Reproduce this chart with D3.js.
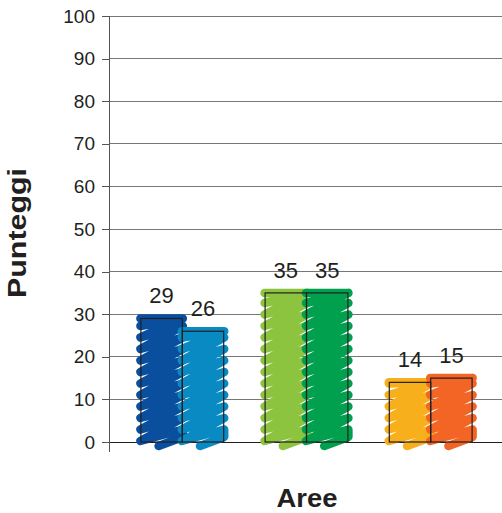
<!DOCTYPE html>
<html>
<head>
<meta charset="utf-8">
<script src="https://cdn.jsdelivr.net/npm/d3@7"></script>
<style>
  html, body { margin: 0; padding: 0; background: #fff; }
  svg { display: block; }
  text { font-family: "Liberation Sans", Arial, sans-serif; fill: #231f20; }
</style>
</head>
<body>
<svg id="chart" width="502" height="513"></svg>
<script>
// Scores per area, two bars per area
const areas = ["Area 1", "Area 2", "Area 3"];
const seriesKeys = ["a", "b"];
const scoresA = [29, 35, 14];
const scoresB = [26, 35, 15];
const barColors = [
  ["#0a4f9e", "#0a8ac2"],
  ["#8cc43f", "#00a04e"],
  ["#f8af1c", "#f26524"]
];
const yTicks = [0, 10, 20, 30, 40, 50, 60, 70, 80, 90, 100];

const svg = d3.select("#chart");
const W = 502, H = 513;

const y = d3.scaleLinear().domain([0, 100]).range([442, 16]);
const x = d3.scaleBand().domain(areas).range([120.2, 492.8]).paddingInner(0).paddingOuter(0);
const xInner = d3.scaleBand().domain(seriesKeys).range([0, x.bandwidth()]).paddingOuter(0.5).paddingInner(0);

const axisX = 109;

// horizontal gridlines
svg.append("g").selectAll("line")
  .data(yTicks)
  .join("line")
  .attr("x1", axisX).attr("x2", W)
  .attr("y1", d => y(d)).attr("y2", d => y(d))
  .attr("stroke", d => d === 0 ? "#231f20" : "#777")
  .attr("stroke-width", 1)
  .attr("shape-rendering", "crispEdges");

// y axis
const yAxis = d3.axisLeft(y).tickValues(yTicks).tickSize(7).tickPadding(7).tickFormat(d3.format("d"));
const gy = svg.append("g").attr("transform", `translate(${axisX},0)`).call(yAxis);
gy.select(".domain").remove();
gy.selectAll(".tick line").attr("stroke", "#555").attr("shape-rendering", "crispEdges");
gy.selectAll(".tick text").attr("font-size", 19).style("font-family", "'Liberation Sans', Arial, sans-serif").attr("fill", "#231f20");
svg.append("line")
  .attr("x1", axisX).attr("x2", axisX)
  .attr("y1", y(100)).attr("y2", y(0) + 10)
  .attr("stroke", "#555").attr("shape-rendering", "crispEdges");

// bar records
const bars = [];
areas.forEach((a, i) => {
  [scoresA[i], scoresB[i]].forEach((v, j) => {
    bars.push({ area: a, key: seriesKeys[j], value: v, color: barColors[i][j] });
  });
});

// scribble fill: a thick zig-zag stroke climbing from the base to the bar top
function scribblePath(b) {
  const x0 = x(b.area) + xInner(b.key);
  const x1 = x0 + xInner.bandwidth();
  const yb = y(0), yt = y(b.value);
  const s = 11.5;
  const ov = 0.5;
  const L = x0 - ov, R = x1 + ov;
  const pts = [[(x0 + x1) / 2 - 3, yb + 4], [R, yb - 5], [R, Math.max(yb - 1 - s, yt)], [L, yb - 1]];
  let yl = yb - 1;
  while (yl > yt + 0.5) {
    pts.push([R, Math.max(yl - 2 * s, yt)]);
    yl = Math.max(yl - s, yt);
    pts.push([L, yl]);
  }
  // finish with a stroke along the top edge
  pts.push([R, yt]);
  return d3.line()(pts);
}

const gBars = svg.append("g");
gBars.selectAll("path.scribble")
  .data(bars)
  .join("path")
  .attr("class", "scribble")
  .attr("d", scribblePath)
  .attr("fill", "none")
  .attr("stroke", d => d.color)
  .attr("stroke-width", 8.5)
  .attr("stroke-linejoin", "round")
  .attr("stroke-linecap", "round");

// bar outlines
gBars.selectAll("rect.outline")
  .data(bars)
  .join("rect")
  .attr("class", "outline")
  .attr("x", d => x(d.area) + xInner(d.key))
  .attr("y", d => y(d.value))
  .attr("width", xInner.bandwidth())
  .attr("height", d => y(0) - y(d.value))
  .attr("fill", "none")
  .attr("stroke", "#231f20")
  .attr("stroke-width", 1.2);

// value labels
gBars.selectAll("text.value")
  .data(bars)
  .join("text")
  .attr("class", "value")
  .attr("x", d => x(d.area) + xInner(d.key) + xInner.bandwidth() / 2)
  .attr("y", d => y(d.value) - 15)
  .attr("text-anchor", "middle")
  .attr("font-size", 22)
  .text(d => d.value);

// axis titles
svg.append("text")
  .attr("x", 307).attr("y", 507)
  .attr("text-anchor", "middle")
  .attr("font-size", 26.5).attr("font-weight", "bold")
  .attr("textLength", 61).attr("lengthAdjust", "spacingAndGlyphs")
  .text("Aree");

svg.append("text")
  .attr("transform", `translate(26,233) rotate(-90)`)
  .attr("text-anchor", "middle")
  .attr("font-size", 26.5).attr("font-weight", "bold")
  .attr("textLength", 130).attr("lengthAdjust", "spacingAndGlyphs")
  .text("Punteggi");
</script>
</body>
</html>
